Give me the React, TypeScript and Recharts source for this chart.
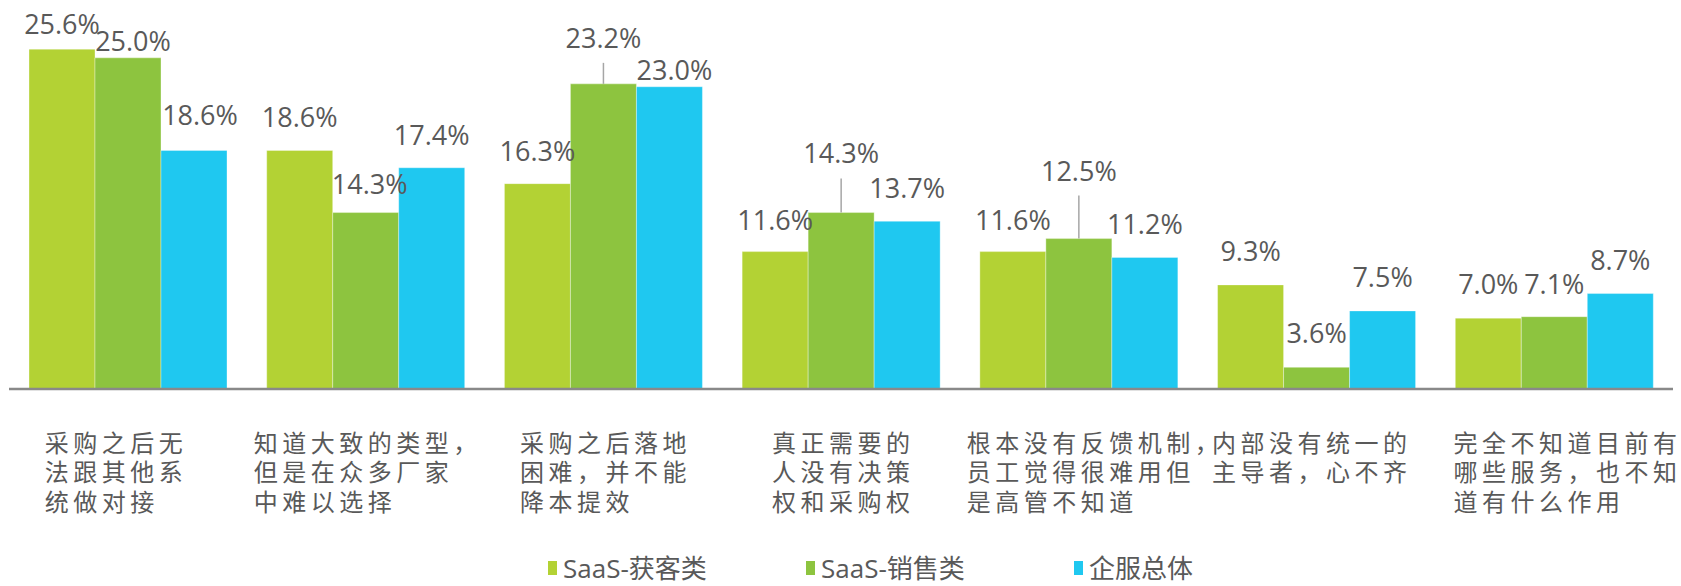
import React from 'react';
import { BarChart, Bar, XAxis, YAxis, Legend, LabelList } from 'recharts';

// ---- data ----
const categoryLines: string[][] = [
  ['采购之后无', '法跟其他系', '统做对接'],
  ['知道大致的类型，', '但是在众多厂家', '中难以选择'],
  ['采购之后落地', '困难，并不能', '降本提效'],
  ['真正需要的', '人没有决策', '权和采购权'],
  ['根本没有反馈机制，', '员工觉得很难用但', '是高管不知道'],
  ['内部没有统一的', '主导者，心不齐'],
  ['完全不知道目前有', '哪些服务，也不知', '道有什么作用'],
];
const seriesNames = ['SaaS-获客类', 'SaaS-销售类', '企服总体'];
const seriesA = [25.6, 18.6, 16.3, 11.6, 11.6, 9.3, 7.0];
const seriesB = [25.0, 14.3, 23.2, 14.3, 12.5, 3.6, 7.1];
const seriesC = [18.6, 17.4, 23.0, 13.7, 11.2, 7.5, 8.7];

// ---- styles (label placement tweaks, not data) ----
const COLORS = ['#B3D234', '#8DC43F', '#1FC8F0'];
const TEXT = '#595959';
const liftA = [15, 23, 23, 22, 22, 23.5, 24];
const liftB = [7, 19, 36, 50, 58, 24, 23];
const liftC = [25, 23, 7, 23, 23, 23.5, 23.5];
const shiftB = [5, 4, 0, 0, 0, 0, 0];
const shiftC = [6, 0, 5, 0, 0, 0, 0];
const leaderB = [0, 0, 21, 34, 43, 0, 0];
const tickNudge = [-14, 0, 0, 0, 14, -7, 11];
const legendItemWidths = [258, 268, 200];

const data = categoryLines.map((lines, i) => ({
  name: lines.join(''),
  a: seriesA[i],
  b: seriesB[i],
  c: seriesC[i],
}));

const LABEL_FONT = 24;
const LABEL_SPACING = 4.5;

const CategoryTick = (props: any) => {
  const { x, y, payload } = props;
  const i = payload.index;
  const lines = categoryLines[i];
  const longest = Math.max(...lines.map((l) => l.length));
  const adv = LABEL_FONT + LABEL_SPACING;
  const left = x - (longest * adv - LABEL_SPACING) / 2 + tickNudge[i];
  return (
    <text
      x={left}
      y={y + 63}
      fill={TEXT}
      fontSize={LABEL_FONT}
      fontFamily="'Noto Sans CJK SC', sans-serif"
      letterSpacing={LABEL_SPACING}
      textAnchor="start"
    >
      {lines.map((l, k) => (
        <tspan key={k} x={left} dy={k === 0 ? 0 : 29.3}>
          {l}
        </tspan>
      ))}
    </text>
  );
};

const makeLabel = (lift: number[], shift: number[], leader: number[]) => (props: any) => {
  const { x, y, width, value, index } = props;
  const cx = x + width / 2;
  const top = y;
  const base = top - lift[index];
  return (
    <g>
      {leader[index] > 0 && (
        <line x1={cx} x2={cx} y1={top - leader[index]} y2={top} stroke="#A6A6A6" strokeWidth={1.5} />
      )}
      <text
        x={cx + shift[index]}
        y={base}
        textAnchor="middle"
        fill={TEXT}
        fontSize={27}
        fontFamily="'Open Sans', sans-serif"
      >
        {Number(value).toFixed(1) + '%'}
      </text>
    </g>
  );
};

const zeros = [0, 0, 0, 0, 0, 0, 0];

const renderLegend = () => (
  <div
    style={{
      display: 'flex',
      paddingLeft: 548,
      height: 26,
      alignItems: 'center',
      fontFamily: "'Open Sans', 'Noto Sans CJK SC', sans-serif",
      fontSize: 26,
      color: TEXT,
    }}
  >
    {seriesNames.map((n, i) => (
      <div key={n} style={{ width: legendItemWidths[i], display: 'flex', alignItems: 'center', height: 26 }}>
        <span style={{ display: 'inline-block', width: 9, height: 14, background: COLORS[i], marginRight: 6 }} />
        <span style={{ lineHeight: '26px' }}>{n}</span>
      </div>
    ))}
  </div>
);

export default function App() {
  return (
    <div style={{ position: 'absolute', left: 0, top: 0, background: '#fff' }}>
      <BarChart
        width={1681}
        height={586}
        data={data}
        margin={{ top: 13, right: 8, left: 9, bottom: 0 }}
        barCategoryGap={20}
        barGap={0}
      >
        <XAxis
          dataKey="name"
          height={197}
          axisLine={{ stroke: '#898989', strokeWidth: 2.5 }}
          tickLine={false}
          tickSize={0}
          tickMargin={0}
          interval={0}
          tick={<CategoryTick />}
        />
        <YAxis hide type="number" domain={[2.1, 28.1]} allowDataOverflow />
        <Legend
          verticalAlign="middle"
          align="center"
          layout="horizontal"
          content={renderLegend}
          wrapperStyle={{ top: 555, left: 0, width: 1681, height: 26 }}
        />
        <Bar dataKey="a" name={seriesNames[0]} fill={COLORS[0]} stroke="#ffffff" strokeOpacity={0.35} strokeWidth={1} isAnimationActive={false}>
          <LabelList dataKey="a" content={makeLabel(liftA, zeros, zeros)} />
        </Bar>
        <Bar dataKey="b" name={seriesNames[1]} fill={COLORS[1]} stroke="#ffffff" strokeOpacity={0.35} strokeWidth={1} isAnimationActive={false}>
          <LabelList dataKey="b" content={makeLabel(liftB, shiftB, leaderB)} />
        </Bar>
        <Bar dataKey="c" name={seriesNames[2]} fill={COLORS[2]} stroke="#ffffff" strokeOpacity={0.35} strokeWidth={1} isAnimationActive={false}>
          <LabelList dataKey="c" content={makeLabel(liftC, shiftC, zeros)} />
        </Bar>
      </BarChart>
    </div>
  );
}
